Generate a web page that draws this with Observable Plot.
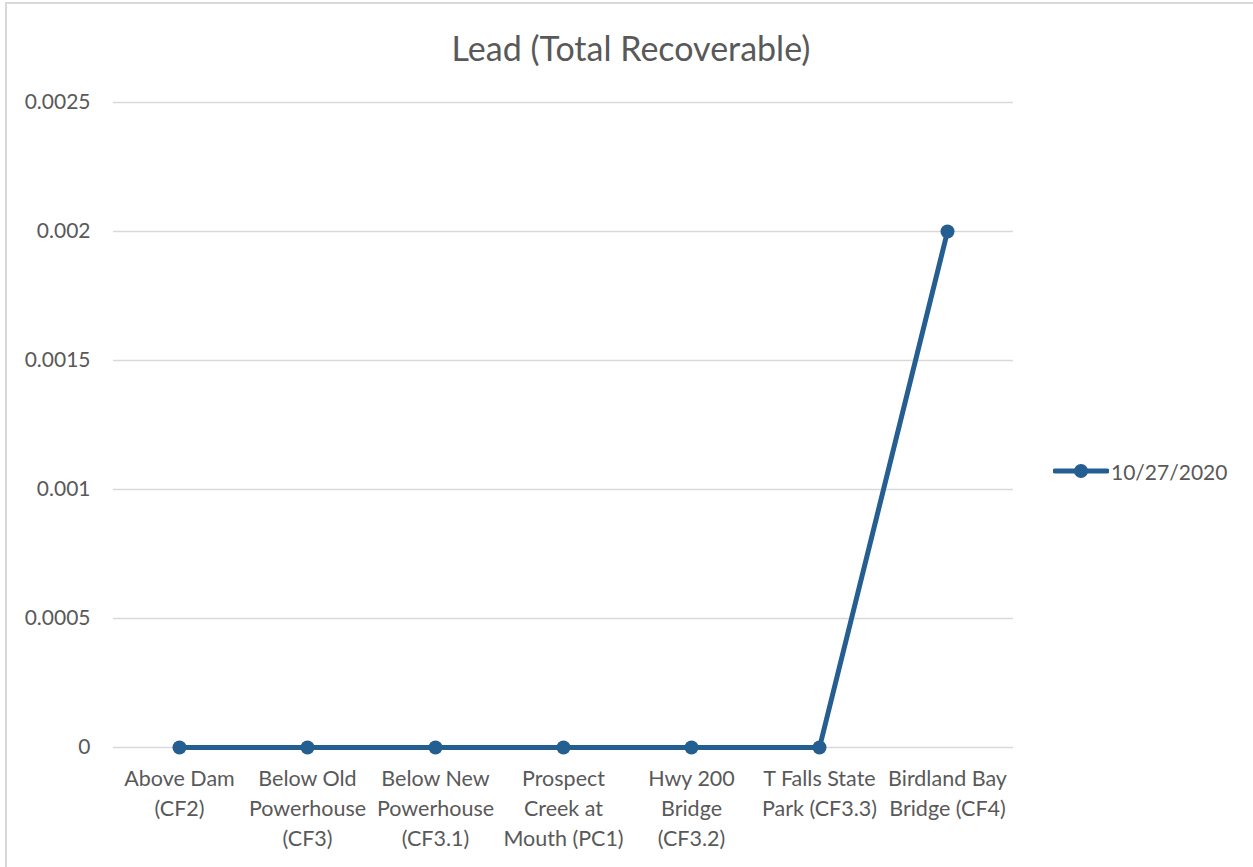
<!DOCTYPE html>
<html>
<head>
<meta charset="utf-8">
<script src="https://cdn.jsdelivr.net/npm/d3@7"></script>
<script src="https://cdn.jsdelivr.net/npm/@observablehq/plot@0.6"></script>
<style>
  body { margin: 0; background: #fff; font-family: Lato, sans-serif; }
  #wrap { position: relative; width: 1253px; height: 867px; overflow: hidden; }
  #frame { position: absolute; left: 5px; top: 2px; width: 1300px; height: 900px;
           border-left: 2px solid #d9d9d9; border-top: 2px solid #d9d9d9; }
  #title { position: absolute; top: 26px; left: 0; width: 1262px; text-align: center;
           font-size: 34px; line-height: 44px; color: #595959; }
  #legend { position: absolute; left: 1053px; top: 458px; display: flex; align-items: center;
            font-size: 21px; color: #595959; }
  #chart { position: absolute; left: 0; top: 0; }
</style>
</head>
<body>
<div id="wrap">
  <div id="frame"></div>
  <div id="chart"></div>
  <div id="title">Lead (Total Recoverable)</div>
  <div id="legend"></div>
</div>
<script>
// colours
const line_blue = '#255e91';
const text_grey = '#595959';
const grid_grey = '#d9d9d9';

// data
const sites = [
  "Above Dam\n(CF2)",
  "Below Old\nPowerhouse\n(CF3)",
  "Below New\nPowerhouse\n(CF3.1)",
  "Prospect\nCreek at\nMouth (PC1)",
  "Hwy 200\nBridge\n(CF3.2)",
  "T Falls State\nPark (CF3.3)",
  "Birdland Bay\nBridge (CF4)"
];
const lead_values = [0, 0, 0, 0, 0, 0, 0.002];
const y_ticks = [0, 0.0005, 0.001, 0.0015, 0.002, 0.0025];
const series_name = "10/27/2020";

const rows = sites.map((s, i) => ({site: s, value: lead_values[i]}));

const chart = Plot.plot({
  width: 1253,
  height: 867,
  marginLeft: 113,
  marginRight: 240,
  marginTop: 102,
  marginBottom: 120,
  style: {fontFamily: "Lato, sans-serif", fontSize: "21px", color: text_grey, background: "transparent"},
  x: {type: "point", domain: sites, padding: 0.5},
  y: {domain: [0, 0.0025]},
  marks: [
    Plot.ruleY(y_ticks, {stroke: grid_grey, strokeWidth: 1.3}),
    Plot.axisY({ticks: y_ticks, tickSize: 0, tickPadding: 23, label: null,
      tickFormat: d => String(+d.toFixed(4)), fill: text_grey, fontSize: 21}),
    Plot.axisX({tickSize: 0, tickPadding: 17, label: null, lineHeight: 1.4,
      fill: text_grey, fontSize: 21.5}),
    Plot.line(rows, {x: "site", y: "value", stroke: line_blue, strokeWidth: 5}),
    Plot.dot(rows, {x: "site", y: "value", r: 7, fill: line_blue})
  ]
});
document.getElementById("chart").append(chart);

// legend
const leg = d3.select("#legend");
const ls = leg.append("svg").attr("width", 56).attr("height", 26);
ls.append("line").attr("x1", 2).attr("x2", 54).attr("y1", 13).attr("y2", 13)
  .attr("stroke", line_blue).attr("stroke-width", 5).attr("stroke-linecap", "round");
ls.append("circle").attr("cx", 28).attr("cy", 13).attr("r", 7).attr("fill", line_blue);
leg.append("span").style("margin-left", "2px").text(series_name);
</script>
</body>
</html>
